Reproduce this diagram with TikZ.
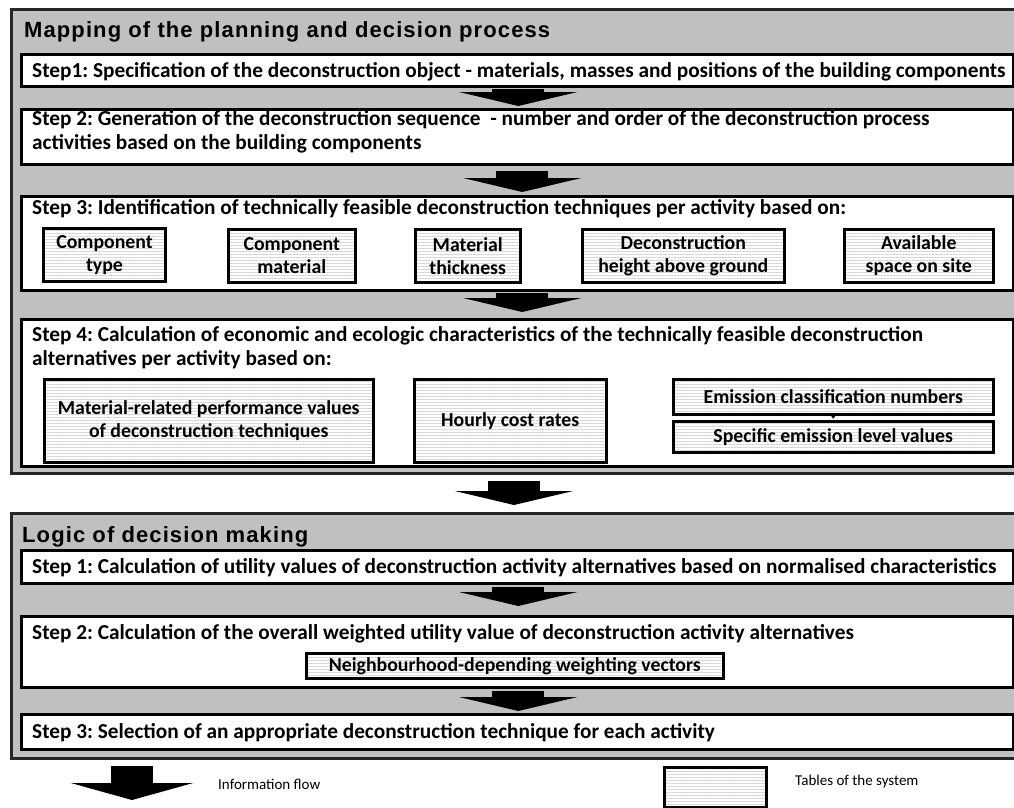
\documentclass[tikz,border=0pt]{standalone}
\usepackage{fontspec}
\setmainfont{Carlito}
\newfontfamily\titlefont{Liberation Sans}[LetterSpace=5]
\usetikzlibrary{arrows.meta,patterns.meta,calc}
\definecolor{panelgray}{RGB}{192,192,192}
\definecolor{stripe}{RGB}{212,212,212}
\frenchspacing
\begin{document}
\begin{tikzpicture}[x=1pt,y=-1pt,
  panel/.style={draw=black!85, line width=3pt, fill=panelgray, inner sep=0pt, anchor=north west},
  stepbox/.style={draw=black, line width=2.5pt, fill=white, inner sep=0pt, anchor=north west, minimum width=992pt},
  tablebox/.style={draw=black, line width=2.5pt, inner sep=0pt, anchor=north west, align=center,
    font=\bfseries\fontsize{19.8}{23}\selectfont, preaction={fill=white},
    pattern={Lines[angle=0,distance=3pt,line width=1pt]}, pattern color=stripe},
  steptext/.style={anchor=base west, inner sep=0pt, align=left, font=\bfseries\fontsize{21.3}{24}\selectfont},
  titletext/.style={anchor=base west, inner sep=0pt, font=\titlefont\bfseries\fontsize{22}{26}\selectfont},
  legendtext/.style={anchor=west, inner sep=0pt, font=\fontsize{15}{18}\selectfont},
  flow/.style={line width=52pt, -{Triangle[width=118pt,length=14pt]}},
  legflow/.style={line width=42pt, -{Triangle[width=122pt,length=17pt]}},
  small/.style={line width=1pt, -{Triangle[width=7pt,length=5pt]}},
]
\useasboundingbox (0,0) rectangle (1014,807);
\clip (0,0) rectangle (1014,807);

% ---------- panel 1 ----------
\node[panel, minimum width=1030pt, minimum height=464pt] (p1) at (10,8) {};
\node[titletext] (p1title) at (24,37) {Mapping of the planning and decision process};

\node[stepbox, minimum height=32pt] (s1) at (20,53) {};
\node[steptext] (s1t) at (32,77) {Step1: Specification of the deconstruction object - materials, masses and positions of the building components};

\node[stepbox, minimum height=55pt] (s2) at (20,108) {};
\node[steptext] (s2t) at (32,149) {Step 2: Generation of the deconstruction sequence\ \ - number and order of the deconstruction process\\activities based on the building components};

\node[stepbox, minimum height=94pt] (s3) at (20,195) {};
\node[steptext] (s3t) at (32,214) {Step 3: Identification of technically feasible deconstruction techniques per activity based on:};
\node[tablebox, minimum width=122pt, minimum height=53pt] (c1) at (43,228) {Component\\type};
\node[tablebox, minimum width=127pt, minimum height=53pt] (c2) at (227,228) {Component\\material};
\node[tablebox, minimum width=105pt, minimum height=53pt] (c3) at (414,228) {Material\\thickness};
\node[tablebox, minimum width=202pt, minimum height=53pt] (c4) at (581,228) {Deconstruction\\height above ground};
\node[tablebox, minimum width=149pt, minimum height=53pt] (c5) at (843,228) {Available\\space on site};

\node[stepbox, minimum height=147pt] (s4) at (20,318) {};
\node[steptext] (s4t) at (32,365) {Step 4: Calculation of economic and ecologic characteristics of the technically feasible deconstruction\\alternatives per activity based on:};
\node[tablebox, minimum width=329pt, minimum height=83pt] (m1) at (43,378) {Material-related performance values\\of deconstruction techniques};
\node[tablebox, minimum width=192pt, minimum height=83pt] (m2) at (413,378) {Hourly cost rates};
\node[tablebox, minimum width=320pt, minimum height=35pt] (e1) at (672,378) {Emission classification numbers};
\node[tablebox, minimum width=320pt, minimum height=31pt] (e2) at (672,420) {Specific emission level values};
\draw[small, shorten >=1.2pt] (e1.south) -- (e2.north);

\draw[flow, shorten <=1pt, shorten >=2pt] ([xshift=1pt]s1.south) -- ([xshift=1pt]s2.north);
\draw[flow, shorten <=5pt, shorten >=3pt] ([xshift=5pt]s2.south) -- ([xshift=5pt]s3.north);
\draw[flow, shorten <=1pt, shorten >=6pt] ([xshift=5pt]s3.south) -- ([xshift=5pt]s4.north);

% ---------- panel 2 ----------
\node[panel, minimum width=1030pt, minimum height=245pt] (p2) at (10,512) {};
\node[titletext] (p2title) at (22,542) {Logic of decision making};

\coordinate (p1b) at (514,472);
\coordinate (p2t) at (514,512);
\draw[flow, shorten <=9pt, shorten >=7pt] (p1b) -- (p2t);

\node[stepbox, minimum height=33pt] (t1) at (20,549) {};
\node[steptext] (t1t) at (32,573) {Step 1: Calculation of utility values of deconstruction activity alternatives based on normalised characteristics};

\node[stepbox, minimum height=71pt] (t2) at (20,615) {};
\node[steptext] (t2t) at (32,639) {Step 2: Calculation of the overall weighted utility value of deconstruction activity alternatives};
\node[tablebox, minimum width=417pt, minimum height=25pt] (n1) at (305,652) {Neighbourhood-depending weighting vectors};

\node[stepbox, minimum height=35pt] (t3) at (20,713) {};
\node[steptext] (t3t) at (32,738) {Step 3: Selection of an appropriate deconstruction technique for each activity};

\draw[flow, shorten <=2pt, shorten >=9pt] ([xshift=1pt]t1.south) -- ([xshift=1pt]t2.north);
\draw[flow, shorten <=2pt, shorten >=2pt] ([xshift=1pt]t2.south) -- ([xshift=1pt]t3.north);

% ---------- legend ----------
\coordinate (la) at (132,766);
\coordinate (lb) at (132,800);
\draw[legflow] (la) -- (lb);
\node[legendtext] (lt1) at (218,784) {Information flow};
\node[tablebox, minimum width=102pt, minimum height=40pt] (lbox) at (663,766) {};
\node[legendtext] (lt2) at (795,781) {Tables of the system};
\end{tikzpicture}
\end{document}
